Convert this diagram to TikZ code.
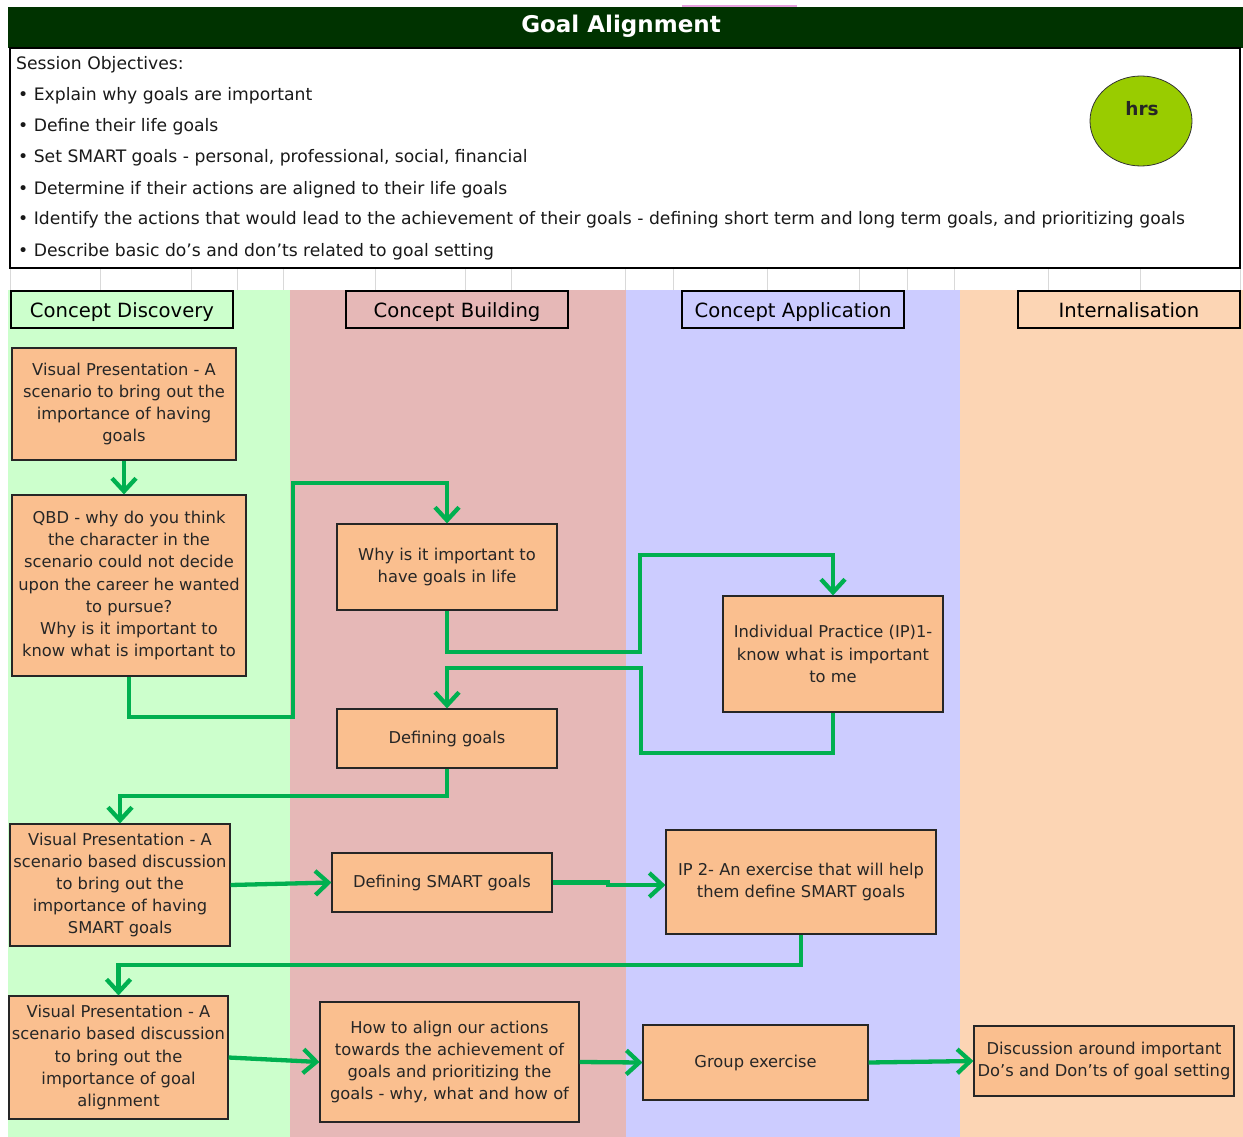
\documentclass[tikz,border=0pt]{standalone}
\usepackage{fontspec}
\setmainfont{DejaVu Sans}
\usetikzlibrary{arrows.meta,shapes.geometric}
\definecolor{titlegreen}{HTML}{003300}
\definecolor{colA}{HTML}{CCFFCC}
\definecolor{colB}{HTML}{E6B8B7}
\definecolor{colC}{HTML}{CCCCFF}
\definecolor{colD}{HTML}{FCD5B4}
\definecolor{boxfill}{HTML}{FABF8F}
\definecolor{flowgreen}{HTML}{00B050}
\definecolor{hrsgreen}{HTML}{99CC00}
\definecolor{gridgray}{HTML}{D9D9D9}
\definecolor{pinkline}{HTML}{E8A0E0}
\tikzset{
  stepbox/.style={draw=black!85, line width=1.1pt, fill=boxfill, align=center, inner sep=0pt,
    font=\fontsize{16.3}{22.2}\selectfont, text=black!85},
  header/.style={draw=black, line width=2.6pt, align=center, inner sep=0pt,
    minimum width=222pt, minimum height=37pt, text height=17pt, text depth=1pt,
    font=\fontsize{19.6}{23}\selectfont},
  flow/.style={draw=flowgreen, line width=4.3pt, line join=miter,
    -{Straight Barb[length=13pt,width=24pt,line width=4.3pt]}},
  objline/.style={anchor=base west, inner sep=0pt, font=\fontsize{17.2}{20}\selectfont, text=black!90}
}
\begin{document}
\begin{tikzpicture}[x=1pt,y=-1pt]
\useasboundingbox (0,0) rectangle (1243,1137);
% column backgrounds
\fill[colA] (8,290) rectangle (290,1137);
\fill[colB] (290,290) rectangle (626,1137);
\fill[colC] (626,290) rectangle (960,1137);
\fill[colD] (960,290) rectangle (1243,1137);
% faint grid lines in gap row
\foreach \gx in {10,100,191,237,283,375,465,511,625,673,767,859,907,954,1048,1140,1240}
  \draw[gridgray, line width=0.8pt] (\gx,268) -- (\gx,290);
% title bar
\draw[pinkline, line width=2pt] (682,6) -- (797,6);
\fill[titlegreen] (8,7) rectangle (1243,48);
\node[text=white, font=\bfseries\fontsize{23}{28}\selectfont] (title) at (621,26) {Goal Alignment};
% session objectives box
\draw[black, line width=2pt, fill=white] (10,48) rectangle (1240,268);
\node[objline] (o0) at (16,70) {Session Objectives:};
\node[objline] (o1) at (18,101) {• Explain why goals are important};
\node[objline] (o2) at (18,132) {• Define their life goals};
\node[objline] (o3) at (18,163) {• Set SMART goals - personal, professional, social, financial};
\node[objline] (o4) at (18,194) {• Determine if their actions are aligned to their life goals};
\node[objline] (o5) at (18,225) {• Identify the actions that would lead to the achievement of their goals - defining short term and long term goals, and prioritizing goals};
\node[objline] (o6) at (18,256) {• Describe basic do’s and don’ts related to goal setting};
\node[draw=black!80, line width=0.8pt, fill=hrsgreen, ellipse, minimum width=102pt, minimum height=90pt] (hrs) at (1141,121) {};
\node[font=\bfseries\fontsize{18.5}{22}\selectfont, text=black!85] (hrstext) at (1142,109) {hrs};
% column headers
\node[header, fill=colA] (hA) at (122,309.5) {Concept Discovery};
\node[header, fill=colB] (hB) at (457,309.5) {Concept Building};
\node[header, fill=colC] (hC) at (793,309.5) {Concept Application};
\node[header, fill=colD] (hD) at (1129,309.5) {Internalisation};
% step boxes
\node[stepbox, minimum width=224pt, minimum height=112pt] (n1) at (124,404)
  {Visual Presentation - A\\scenario to bring out the\\importance of having\\goals};
\node[stepbox, minimum width=234pt, minimum height=181pt] (n2) at (129,585.5)
  {QBD - why do you think\\the character in the\\scenario could not decide\\upon the career he wanted\\to pursue?\\Why is it important to\\know what is important to};
\node[stepbox, minimum width=220pt, minimum height=86pt] (n3) at (447,567)
  {Why is it important to\\have goals in life};
\node[stepbox, minimum width=220pt, minimum height=116pt] (n4) at (833,654)
  {Individual Practice (IP)1-\\know what is important\\to me};
\node[stepbox, minimum width=220pt, minimum height=59pt] (n5) at (447,738.5)
  {Defining goals};
\node[stepbox, minimum width=220pt, minimum height=122pt] (n6) at (120,885)
  {Visual Presentation - A\\scenario based discussion\\to bring out the\\importance of having\\SMART goals};
\node[stepbox, minimum width=220pt, minimum height=59pt] (n7) at (442,882.5)
  {Defining SMART goals};
\node[stepbox, minimum width=270pt, minimum height=104pt] (n8) at (801,882)
  {IP 2- An exercise that will help\\them define SMART goals};
\node[stepbox, minimum width=219pt, minimum height=123pt] (n9) at (118.5,1057.5)
  {Visual Presentation - A\\scenario based discussion\\to bring out the\\importance of goal\\alignment};
\node[stepbox, minimum width=259pt, minimum height=120pt] (n10) at (449.5,1062)
  {How to align our actions\\towards the achievement of\\goals and prioritizing the\\goals - why, what and how of};
\node[stepbox, minimum width=225pt, minimum height=75pt] (n11) at (755.5,1062.5)
  {Group exercise};
\node[stepbox, minimum width=260pt, minimum height=70pt] (n12) at (1104,1061)
  {Discussion around important\\Do's and Don'ts of goal setting};
% connectors
\draw[flow] (n1.south) -- (n2.north -| n1.south);
\draw[flow] (n2.south) -- (n2.south |- 0,717) -- (293,717) -- (293,483) -- (n3.north |- 0,483) -- (n3.north);
\draw[flow] (n3.south) -- (n3.south |- 0,652) -- (640,652) -- (640,555) -- (n4.north |- 0,555) -- (n4.north);
\draw[flow] (n4.south) -- (n4.south |- 0,753) -- (641,753) -- (641,668) -- (n5.north |- 0,668) -- (n5.north);
\draw[flow] (n5.south) -- (n5.south |- 0,796) -- (n6.north |- 0,796) -- (n6.north);
\draw[flow] (n6.east) -- (n7.west);
\draw[flow] (n7.east) -- (608,882.5) -- (608,885) -- (n8.west |- 0,885);
\draw[flow] (n8.south) -- (n8.south |- 0,965) -- (n9.north |- 0,965) -- (n9.north);
\draw[flow] (n9.east) -- (n10.west);
\draw[flow] (n10.east) -- (n11.west);
\draw[flow] (n11.east) -- (n12.west);
\end{tikzpicture}
\end{document}
